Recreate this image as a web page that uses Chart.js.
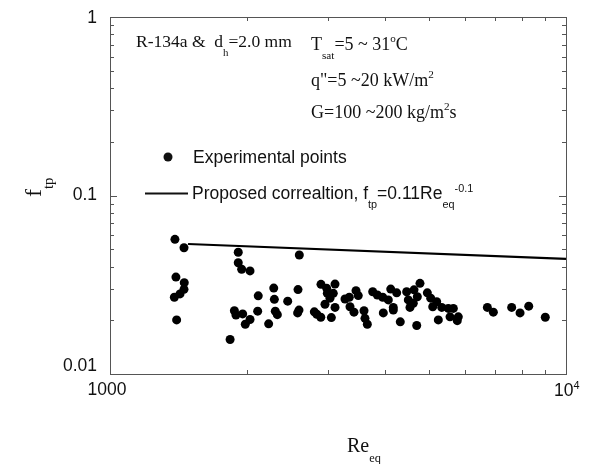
<!DOCTYPE html>
<html>
<head>
<meta charset="utf-8">
<script src="https://cdn.jsdelivr.net/npm/chart.js@4.4.1/dist/chart.umd.min.js"></script>
<style>
    html, body { margin: 0; padding: 0; background: #ffffff; }
    #wrap { width: 589px; height: 464px; }
</style>
</head>
<body>
<div id="wrap"><canvas id="frictionChart" width="589" height="464"></canvas></div>
<script>
// Experimental two-phase friction factor data
const expRe = [
    1388, 1453, 1911, 2601, 1911, 1944, 2028, 1395, 1455, 1453, 1424, 1384, 1400, 1834,
    1874, 1889, 1954, 2028, 1980, 2108, 2114, 2228, 2286, 2293, 2304, 2328, 2453, 2584,
    2597, 2579, 2806, 2841, 2899, 3058, 2902, 2987, 3115, 2996, 3088, 3037, 2961, 3115,
    3276, 3348, 3463, 3503, 3360, 3428, 3606, 3624, 3667, 3768, 3857, 3963, 3975, 4127,
    4077, 4181, 4253, 4181, 4331, 4473, 4510, 4548, 4642, 4784, 4720, 4625, 4706, 4965,
    5050, 5102, 5205, 5248, 5339, 5520, 5662, 5568, 5805, 5775, 6723, 6929, 7601, 7929,
    8285, 9007
];
const expF = [
    0.0568, 0.0510, 0.0481, 0.0464, 0.0420, 0.0386, 0.0378, 0.0349, 0.0325, 0.0298, 0.0281, 0.0269, 0.0201, 0.0156,
    0.0226, 0.0214, 0.0217, 0.0202, 0.0190, 0.0225, 0.0274, 0.0191, 0.0303, 0.0262, 0.0225, 0.0215, 0.0256, 0.0297,
    0.0228, 0.0220, 0.0223, 0.0216, 0.0208, 0.0207, 0.0318, 0.0302, 0.0319, 0.0283, 0.0283, 0.0266, 0.0246, 0.0236,
    0.0263, 0.0269, 0.0293, 0.0275, 0.0238, 0.0222, 0.0226, 0.0205, 0.0190, 0.0289, 0.0277, 0.0269, 0.0220, 0.0299,
    0.0260, 0.0236, 0.0285, 0.0228, 0.0196, 0.0289, 0.0260, 0.0236, 0.0296, 0.0322, 0.0271, 0.0249, 0.0187, 0.0285,
    0.0266, 0.0238, 0.0254, 0.0201, 0.0236, 0.0233, 0.0233, 0.0209, 0.0209, 0.0199, 0.0236, 0.0222, 0.0236, 0.0220,
    0.0240, 0.0208
];

// Proposed correlation line end points
const fitRe = [1483, 10000];
const fitF = [0.0535, 0.0441];

// Axis ticks
const xTickValues = [1000, 10000];
const yTickValues = [1, 0.1, 0.01];
const yTickLabels = ['1', '0.1', '0.01'];

const SERIF = '"Liberation Serif", "Times New Roman", serif';
const SANS = '"Liberation Sans", Arial, sans-serif';

// Draw text with sub/superscript runs: parts = [[text, 'sub'|'sup'|undefined], ...]
function drawRich(ctx, x, y, parts, size, family) {
    let cx = x;
    parts.forEach(([text, mode]) => {
        let fs = size, dy = 0;
        if (mode === 'sub') { fs = size * 0.62; dy = size * 0.5; }
        if (mode === 'sup') { fs = size * 0.62; dy = -size * 0.42; }
        ctx.font = fs + 'px ' + family;
        ctx.fillText(text, cx, y + dy);
        cx += ctx.measureText(text).width;
    });
    return cx;
}

// Box, inward ticks, labels and annotations
const framePlugin = {
    id: 'frame',
    afterDraw(chart) {
        const ctx = chart.ctx;
        const a = chart.chartArea;
        const xs = chart.scales.x;
        const ys = chart.scales.y;

        ctx.save();
        ctx.strokeStyle = '#555';
        ctx.lineWidth = 1;
        ctx.strokeRect(a.left + 0.5, a.top + 0.5, a.right - a.left, a.bottom - a.top);

        // log ticks on all four sides, pointing inward
        ctx.beginPath();
        for (let dec = 1000; dec < 10000; dec *= 10) {
            for (let m = 1; m <= 10; m++) {
                const px = Math.round(xs.getPixelForValue(dec * m)) + 0.5;
                const len = (m === 1 || m === 10) ? 7 : 4;
                ctx.moveTo(px, a.bottom); ctx.lineTo(px, a.bottom - len);
                ctx.moveTo(px, a.top); ctx.lineTo(px, a.top + len);
            }
        }
        for (let dec = 0.01; dec < 1; dec *= 10) {
            for (let m = 1; m <= 10; m++) {
                const py = Math.round(ys.getPixelForValue(dec * m)) + 0.5;
                const len = (m === 1 || m === 10) ? 7 : 4;
                ctx.moveTo(a.left, py); ctx.lineTo(a.left + len, py);
                ctx.moveTo(a.right, py); ctx.lineTo(a.right - len, py);
            }
        }
        ctx.stroke();

        // tick labels
        ctx.fillStyle = '#111';
        ctx.font = '17.5px ' + SANS;
        ctx.textAlign = 'right';
        ctx.textBaseline = 'middle';
        yTickValues.forEach((v, i) => {
            let py = ys.getPixelForValue(v);
            if (i === 0) py += 1;
            if (i === yTickValues.length - 1) py -= 8;
            ctx.fillText(yTickLabels[i], a.left - 13, py);
        });
        ctx.textAlign = 'center';
        ctx.fillText('1000', xs.getPixelForValue(xTickValues[0]) - 3, a.bottom + 16);
        ctx.textAlign = 'left';
        ctx.textBaseline = 'alphabetic';
        const x4 = xs.getPixelForValue(xTickValues[1]) - 12;
        drawRich(ctx, x4, a.bottom + 22, [['10'], ['4', 'sup']], 17.5, SANS);

        // axis titles
        drawRich(ctx, 347, 452, [['Re'], ['eq', 'sub']], 20, SERIF);
        ctx.save();
        ctx.translate(41, 197);
        ctx.rotate(-Math.PI / 2);
        drawRich(ctx, 0, 0, [['f'], ['tp', 'sub']], 24, SERIF);
        ctx.restore();

        // annotations
        drawRich(ctx, 136, 47, [['R-134a &  d'], ['h', 'sub'], ['=2.0 mm']], 17.5, SERIF);
        drawRich(ctx, 311, 50, [['T'], ['sat', 'sub'], ['=5 ~ 31'], ['o', 'sup'], ['C']], 18, SERIF);
        drawRich(ctx, 311, 86, [['q"=5 ~20 kW/m'], ['2', 'sup']], 18, SERIF);
        drawRich(ctx, 311, 118, [['G=100 ~200 kg/m'], ['2', 'sup'], ['s']], 18, SERIF);

        // legend
        ctx.beginPath();
        ctx.arc(168, 157, 4.5, 0, Math.PI * 2);
        ctx.fill();
        drawRich(ctx, 193, 163, [['Experimental points']], 17.5, SANS);
        ctx.strokeStyle = '#111';
        ctx.lineWidth = 2;
        ctx.beginPath();
        ctx.moveTo(145, 193.5);
        ctx.lineTo(188, 193.5);
        ctx.stroke();
        drawRich(ctx, 192, 199, [['Proposed correaltion, f'], ['tp', 'sub'], ['=0.11Re'], ['eq', 'sub'], ['-0.1', 'sup']], 17.5, SANS);

        ctx.restore();
    }
};

document.addEventListener('DOMContentLoaded', function() {
    const ctx = document.getElementById('frictionChart');

    new Chart(ctx, {
        type: 'scatter',
        data: {
            datasets: [{
                label: 'Experimental points',
                data: expRe.map((re, i) => ({ x: re, y: expF[i] })),
                backgroundColor: '#000',
                borderColor: '#000',
                pointRadius: 4.5,
                borderWidth: 0
            }, {
                type: 'line',
                label: 'Proposed correaltion',
                data: fitRe.map((re, i) => ({ x: re, y: fitF[i] })),
                borderColor: '#000',
                borderWidth: 2.2,
                pointRadius: 0,
                fill: false
            }]
        },
        options: {
            responsive: false,
            animation: false,
            layout: {
                padding: { left: 102, top: 17, right: 23, bottom: 82 }
            },
            plugins: {
                legend: { display: false },
                tooltip: { enabled: false }
            },
            scales: {
                x: {
                    type: 'logarithmic',
                    min: 1000,
                    max: 10000,
                    ticks: { display: false },
                    grid: { display: false },
                    border: { display: false }
                },
                y: {
                    type: 'logarithmic',
                    min: 0.01,
                    max: 1,
                    ticks: { display: false },
                    grid: { display: false },
                    border: { display: false }
                }
            }
        },
        plugins: [framePlugin]
    });
});
</script>
</body>
</html>
